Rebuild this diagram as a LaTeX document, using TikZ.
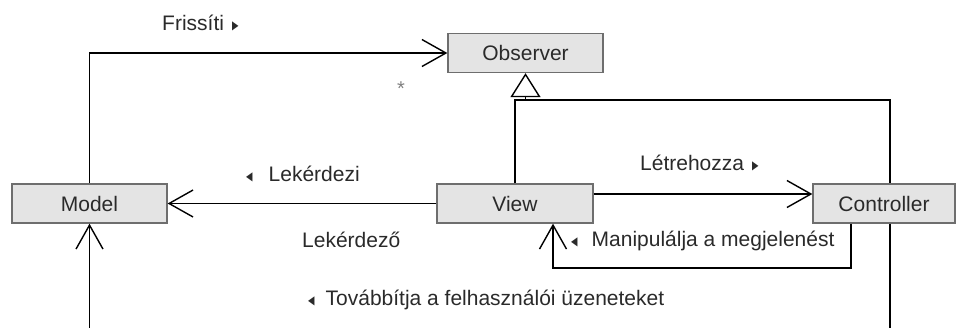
\documentclass[tikz,border=0pt]{standalone}
\usepackage{fontspec}
\usepackage{graphicx}
\setmainfont{Liberation Sans}
\newfontfamily\symf{DejaVu Sans}
\usetikzlibrary{arrows.meta}
\definecolor{boxfill}{HTML}{E4E4E4}
\definecolor{boxline}{HTML}{6E6E6E}
\definecolor{txt}{HTML}{2A2A2A}
\newcommand{\rtri}{{\symf\fontsize{12}{12}\selectfont\raisebox{1pt}{\scalebox{0.7}[1]{▶}}}}
\newcommand{\ltri}{{\symf\fontsize{12}{12}\selectfont\raisebox{1pt}{\scalebox{0.7}[1]{◀}}}}
\begin{document}
\begin{tikzpicture}[x=1pt,y=-1pt,
  cls/.style={draw=boxline, fill=boxfill, line width=1.3pt, minimum height=39pt, inner sep=0pt, font=\fontsize{21}{24}\selectfont, text=txt},
  lbl/.style={font=\fontsize{21}{24}\selectfont, text=txt, inner sep=0pt, anchor=west},
  conn/.style={line width=1.4pt},
  barb/.style={-{Straight Barb[length=24pt,width=27pt,line width=1.4pt]}}]
\useasboundingbox (0,0) rectangle (957,327);
\node[cls, minimum width=155pt] (obs) at (525.5,53) {Observer};
\node[cls, minimum width=155pt] (model) at (89.5,203.5) {Model};
\node[cls, minimum width=156pt] (view) at (515,203.5) {View};
\node[cls, minimum width=142pt] (ctrl) at (884,203.5) {Controller};
% labels
\node[lbl] (lfris) at (162,23) {Frissíti\hspace{8pt}\rtri};
\node[lbl, font=\fontsize{20}{20}\selectfont, text=gray] (lstar) at (397,89) {*};
\node[lbl] (lletre) at (640,163) {Létrehozza\hspace{8pt}\rtri};
\node[lbl] (llek) at (246,174) {\ltri\hspace{16pt}Lekérdezi};
\node[lbl] (llekzo) at (302,240) {Lekérdező};
\node[lbl] (lmanip) at (571,241) {\ltri\hspace{14pt}Manipulálja a megjelenést};
\node[lbl] (ltov) at (308,300) {\ltri\hspace{11pt}Továbbítja a felhasználói üzeneteket};
% coordinates
\coordinate (ch) at (890,100);
\coordinate (mb) at (89.5,330);
\coordinate (cb) at (890,330);
\coordinate (mp) at (851,268);
% connectors
\draw[conn, barb] (model.north) |- (obs.west);
\draw[conn, barb] (view.west) -- (model.east);
\draw[conn, barb] ([yshift=9.5pt]view.east) -- ([yshift=9.5pt]ctrl.west);
\draw[conn, barb] ([xshift=-33pt]ctrl.south) -- (mp) -| ([xshift=38pt]view.south);
\draw[conn] (view.north) |- (ch) -- ([xshift=6pt]ctrl.north);
\draw[conn, -{Triangle[open,length=24pt,width=30pt,line width=1.4pt,fill=white]}] (obs.south |- ch) -- (obs.south);
\draw[conn, barb] (mb) -- (model.south);
\draw[conn] ([xshift=6pt]ctrl.south) -- (cb);
\end{tikzpicture}
\end{document}
